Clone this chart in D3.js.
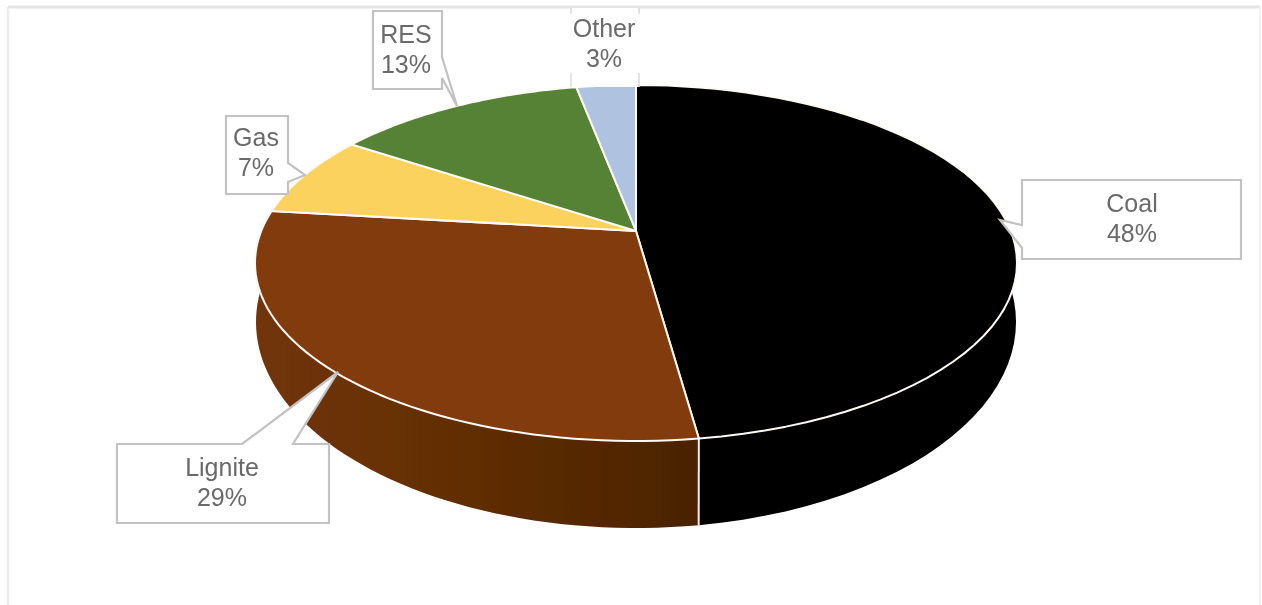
<!DOCTYPE html>
<html><head><meta charset="utf-8">
<script src="https://cdn.jsdelivr.net/npm/d3@7"></script>
<style>html,body{margin:0;padding:0;background:#fff}svg{display:block}text{font-family:"Liberation Sans",Arial,sans-serif}</style>
</head><body><div id="chart"></div>
<script>
const categories = ["Coal","Lignite","Gas","RES","Other"];
const shares = [47.8,29.1,7.4,12.7,3.0];
const topColors = ["#000000","#813b0b","#fcd25f","#548235","#afc3e1"];
const sideColors = ["#000000","url(#ligniteSide)","#c09a3a","#3f6228","#8496ad"];

const W=1262,H=605;
const tilt=0.18;
const topRim={cx:636,cy:263,rx:381,ry:178};
const lowRim={cx:636,cy:322,rx:380,ry:206};

// callout geometry: box [x0,y0,x1,y1], pointer outline inserted into the box edge, text anchor
const callouts=[
 {box:[1022,180,1241,259],edge:"left", ptr:[[1022,248],[1000,220],[1022,225]],tx:1132,ty:212},
 {box:[117,444,329,523],edge:"top", ptr:[[242,444],[338,372],[293,444]],tx:222,ty:476},
 {box:[226,116,288,194],edge:"right",ptr:[[288,163],[305,175],[288,182]],tx:256,ty:146},
 {box:[373,11,442,89],edge:"right",ptr:[[442,57],[457,106],[442,78]],tx:406,ty:43},
 {box:[571,8,639,87],edge:"none",ptr:[],tx:604,ty:37}
];

const svg=d3.select("#chart").append("svg").attr("width",W).attr("height",H).attr("viewBox",[0,0,W,H]);
const defs=svg.append("defs");
defs.append("filter").attr("id","soft").append("feGaussianBlur").attr("stdDeviation",0.45);
const g=defs.append("linearGradient").attr("id","ligniteSide").attr("gradientUnits","userSpaceOnUse")
 .attr("x1",256).attr("x2",699).attr("y1",0).attr("y2",0);
g.append("stop").attr("offset",0).attr("stop-color","#713507");
g.append("stop").attr("offset",0.45).attr("stop-color","#622e06");
g.append("stop").attr("offset",1).attr("stop-color","#4a2305");

const root=svg.append("g").attr("filter","url(#soft)");
root.append("rect").attr("width",W).attr("height",H).attr("fill","#fff");
// chart-area frame: top, left and (fainter) right edges
[[[8,7],[1260,7],"#e4e4e4",3],[[8,7],[8,605],"#ececec",2.5],[[1260,7],[1260,605],"#f3f3f3",2]].forEach(([a,b,c,w])=>{
 root.append("line").attr("x1",a[0]).attr("y1",a[1]).attr("x2",b[0]).attr("y2",b[1]).attr("stroke",c).attr("stroke-width",w);
});

// projective map of the unit disc: disc centre lands on the pie's apex
const s=Math.sqrt(1-tilt*tilt);
function proj(a,rim){
 const x=Math.sin(a),y=-Math.cos(a),d=1-tilt*y;
 const X=d3.scaleLinear().domain([-1,1]).range([rim.cx-rim.rx,rim.cx+rim.rx]);
 const Y=d3.scaleLinear().domain([-1,1]).range([rim.cy-rim.ry,rim.cy+rim.ry]);
 return [X(x*s/d),Y((y-tilt)/d)];
}
const apex=[topRim.cx,topRim.cy-tilt*topRim.ry];
const arcs=d3.pie().sort(null).value(d=>d)(shares);
const line=d3.line();
const samples=(a0,a1)=>d3.range(0,61).map(i=>a0+(a1-a0)*i/60);

// sides
root.append("g").selectAll("path").data(arcs).join("path")
 .attr("d",d=>{const t=samples(d.startAngle,d.endAngle);
   return line(t.map(a=>proj(a,topRim)).concat(t.slice().reverse().map(a=>proj(a,lowRim))))+"Z";})
 .attr("fill",(d,i)=>sideColors[i]);
// divider between the two visible side walls
root.append("path").attr("d",line([proj(arcs[0].endAngle,topRim),proj(arcs[0].endAngle,lowRim)]))
 .attr("stroke","#f4ece6").attr("stroke-width",2).attr("fill","none");
// top face
root.append("g").selectAll("path").data(arcs).join("path")
 .attr("d",d=>line([apex].concat(samples(d.startAngle,d.endAngle).map(a=>proj(a,topRim))))+"Z")
 .attr("fill",(d,i)=>topColors[i]).attr("stroke","#fffaf5").attr("stroke-width",2).attr("stroke-linejoin","round");

// callouts
const co=root.append("g");
callouts.forEach((c,i)=>{
 const [x0,y0,x1,y1]=c.box;
 let pts;
 if(c.edge==="left") pts=[[x0,y0],[x1,y0],[x1,y1],[x0,y1],...c.ptr];
 else if(c.edge==="top") pts=[[x0,y0],...c.ptr,[x1,y0],[x1,y1],[x0,y1]];
 else if(c.edge==="right") pts=[[x0,y0],[x1,y0],...c.ptr,[x1,y1],[x0,y1]];
 else pts=[[x0,y0],[x1,y0],[x1,y1],[x0,y1]];
 const isOther=c.edge==="none";
 co.append("path").attr("d",line(pts)+"Z").attr("fill","#fff")
  .attr("stroke",isOther?"none":"#c2c2c2").attr("stroke-width",2.2).attr("stroke-linejoin","miter");
 if(isOther){
  [x0,x1].forEach(x=>{
   [[y0,y0+6],[y1-14,y1]].forEach(([a,b])=>co.append("line").attr("x1",x).attr("x2",x).attr("y1",a).attr("y2",b)
     .attr("stroke","#dcdcdc").attr("stroke-width",1.6));
  });
 }
 const t=co.append("text").attr("text-anchor","middle").attr("fill","#6a6a6a").attr("font-size",25);
 t.append("tspan").attr("x",c.tx).attr("y",c.ty).text(categories[i]);
 t.append("tspan").attr("x",c.tx).attr("y",c.ty+30).text(Math.round(shares[i])+"%");
});
</script></body></html>
